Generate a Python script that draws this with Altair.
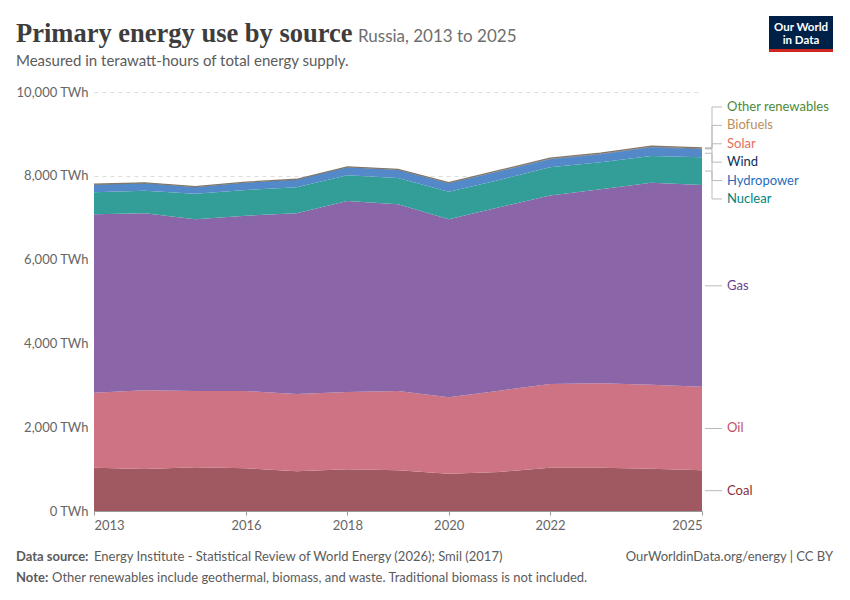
import altair as alt
import pandas as pd

years = [2013, 2014, 2015, 2016, 2017, 2018, 2019, 2020, 2021, 2022, 2023, 2024, 2025]
sources = ["Coal", "Oil", "Gas", "Nuclear", "Hydropower", "Wind", "Solar", "Biofuels", "Other renewables"]

coal = [1034, 1002, 1043, 1019, 947, 995, 971, 891, 931, 1034, 1034, 1010, 971]
oil = [1790, 1878, 1821, 1845, 1846, 1845, 1893, 1823, 1941, 1997, 2013, 2005, 1996]
gas = [4258, 4226, 4099, 4185, 4313, 4560, 4457, 4252, 4377, 4496, 4632, 4822, 4815]
nuclear = [525, 540, 611, 613, 621, 613, 628, 653, 652, 677, 644, 637, 661]
hydro = [184, 180, 160, 178, 182, 192, 194, 205, 205, 190, 192, 205, 190]
wind = [0.03, 0.03, 0.05, 0.3, 0.3, 0.6, 0.9, 3.5, 8.6, 12, 14, 17, 19]
solar = [0.4, 0.6, 1.2, 1.6, 1.6, 2.0, 3.2, 5.0, 5.6, 5.9, 6.4, 6.2, 6.5]
biofuels = [0.5, 0.5, 0.5, 0.5, 0.5, 0.5, 0.5, 0.5, 0.5, 0.5, 0.5, 0.5, 0.5]
other = [6, 6, 6, 6, 6, 6, 6, 6, 7, 7, 7, 7, 7]

# label (text) colours and area fill colours (fills are the lighter, 80% tint)
colors = ["#883039", "#C15065", "#6D3E91", "#00847E", "#286BBB",
          "#0E2E5C", "#E56E5A", "#BC8E5A", "#4C8A3A"]
fills = ["#a05961", "#cd7384", "#8a65a7", "#339d98", "#5389c9",
         "#3e587d", "#ea8b7b", "#c9a57b", "#70a162"]

series = [coal, oil, gas, nuclear, hydro, wind, solar, biofuels, other]

rows = []
for i, (src, vals) in enumerate(zip(sources, series)):
    for y, v in zip(years, vals):
        rows.append({"year": y, "source": src, "value": v, "order": i})
df = pd.DataFrame(rows)

totals = [sum(s[k] for s in series) for k in range(len(years))]
df_total = pd.DataFrame({"year": years, "total": totals})

# label placement (derived from last-year values, with collision avoidance)
last = [s[-1] for s in series]
cum = 0
mids = []
for v in last:
    mids.append(cum + v / 2)
    cum += v
SPACING = 439.0  # data units between labels
order_idx = sorted(range(len(sources)), key=lambda k: -mids[k])
groups = [[k] for k in order_idx]
def gpos(g):
    c = sum(mids[k] for k in g) / len(g)
    n = len(g)
    return [c + ((n - 1) / 2 - j) * SPACING for j in range(n)]
changed = True
while changed:
    changed = False
    for gi in range(len(groups) - 1):
        a = gpos(groups[gi]); b = gpos(groups[gi + 1])
        if a[-1] - b[0] < SPACING - 1e-6:
            groups[gi] = groups[gi] + groups[gi + 1]
            del groups[gi + 1]
            changed = True
            break
label_y = {}
for g in groups:
    for k, p in zip(g, gpos(g)):
        label_y[k] = p
df_lab = pd.DataFrame({
    "source": sources,
    "mid": mids,
    "label_y": [label_y[k] for k in range(len(sources))],
})

W, H = 608, 419
FONT = "Lato"

fill_scale = alt.Scale(domain=sources, range=fills)
text_scale = alt.Scale(domain=[s + " " for s in sources], range=colors)
df_lab["key"] = [s + " " for s in sources]
yscale = alt.Scale(domain=[0, 10000], nice=False)
xscale = alt.Scale(domain=[2013, 2025], nice=False)

areas = alt.Chart(df).mark_area(interpolate="linear").encode(
    x=alt.X("year:Q", scale=xscale,
            axis=alt.Axis(values=[2013, 2016, 2018, 2020, 2022, 2025], format="d", title=None,
                          grid=False, labelFlush=True, labelFontSize=13, labelColor="#666",
                          labelFont=FONT, domainColor="#999", tickColor="#999", tickSize=4,
                          labelPadding=4)),
    y=alt.Y("value:Q", stack="zero", scale=yscale,
            axis=alt.Axis(values=[0, 2000, 4000, 6000, 8000, 10000],
                          labelExpr="format(datum.value, ',') + ' TWh'", title=None,
                          grid=True, gridDash=[4, 4], gridColor="#dddddd", domain=False,
                          ticks=False, labelPadding=6, labelFontSize=13, labelColor="#666",
                          labelFont=FONT)),
    color=alt.Color("source:N", scale=fill_scale, legend=None),
    order=alt.Order("order:Q", sort="ascending"),
)

topline = alt.Chart(df_total).mark_line(color="#80776c", strokeWidth=1.3).encode(
    x=alt.X("year:Q", scale=xscale), y=alt.Y("total:Q", scale=yscale))

VX = 618
lead1 = alt.Chart(df_lab).mark_rule(color="#bbbbbb", strokeWidth=1).encode(
    y=alt.Y("mid:Q", scale=yscale), x=alt.value(611), x2=alt.value(VX))
lead2 = alt.Chart(df_lab).mark_rule(color="#bbbbbb", strokeWidth=1).encode(
    y=alt.Y("mid:Q", scale=yscale), y2="label_y:Q", x=alt.value(VX))
lead3 = alt.Chart(df_lab).mark_rule(color="#bbbbbb", strokeWidth=1).encode(
    y=alt.Y("label_y:Q", scale=yscale), x=alt.value(VX), x2=alt.value(628))
labels = alt.Chart(df_lab).mark_text(align="left", baseline="middle", fontSize=13, font=FONT).encode(
    y=alt.Y("label_y:Q", scale=yscale), x=alt.value(633), text="source:N",
    color=alt.Color("key:N", scale=text_scale, legend=None))

def txt(s, x, y, **kw):
    return alt.Chart(pd.DataFrame({"t": [s]})).mark_text(**kw).encode(
        text="t:N", x=alt.value(x), y=alt.value(y))

title = txt("Primary energy use by source", -78, -50, align="left", baseline="alphabetic",
            font="Liberation Serif", fontSize=26.5, fontWeight="bold", color="#3d3d3d")
subtitle_place = txt("Russia, 2013 to 2025", 264, -50, align="left", baseline="alphabetic",
                     font=FONT, fontSize=17, color="#6e6e6e")
subtitle = txt("Measured in terawatt-hours of total energy supply.", -78, -26, align="left",
               baseline="alphabetic", font=FONT, fontSize=15, color="#5b5b5b")
FS = 13
src_b = txt("Data source:", -78, 469, align="left", baseline="alphabetic", font=FONT,
            fontSize=FS, fontWeight="bold", color="#5b5b5b")
src_t = txt("Energy Institute - Statistical Review of World Energy (2026); Smil (2017)", 0, 469,
            align="left", baseline="alphabetic", font=FONT, fontSize=FS, color="#5b5b5b")
url = txt("OurWorldinData.org/energy | CC BY", 739, 469, align="right", baseline="alphabetic",
          font=FONT, fontSize=FS, color="#5b5b5b")
note_b = txt("Note:", -78, 490, align="left", baseline="alphabetic", font=FONT,
             fontSize=FS, fontWeight="bold", color="#5b5b5b")
note_t = txt("Other renewables include geothermal, biomass, and waste. Traditional biomass is not included.",
             -42, 490, align="left", baseline="alphabetic", font=FONT, fontSize=FS, color="#5b5b5b")

logo_df = pd.DataFrame({"a": [1]})
logo_box = alt.Chart(logo_df).mark_rect(color="#002147").encode(
    x=alt.value(675), x2=alt.value(739), y=alt.value(-76), y2=alt.value(-43))
logo_red = alt.Chart(logo_df).mark_rect(color="#ce261e").encode(
    x=alt.value(675), x2=alt.value(739), y=alt.value(-43), y2=alt.value(-40))
logo_t1 = txt("Our World", 707, -61, align="center", baseline="alphabetic", font=FONT,
              fontSize=11.5, fontWeight="bold", color="white")
logo_t2 = txt("in Data", 707, -48, align="center", baseline="alphabetic", font=FONT,
              fontSize=11.5, fontWeight="bold", color="white")

chart = alt.layer(
    areas, topline, lead1, lead2, lead3, labels,
    title, subtitle_place, subtitle, src_b, src_t, url, note_b, note_t,
    logo_box, logo_red, logo_t1, logo_t2,
).resolve_scale(color="independent").properties(
    width=W, height=H,
    autosize=alt.AutoSizeParams(type="none"),
    padding={"left": 86, "top": 84, "right": 132, "bottom": 80},
    background="white",
).configure_view(stroke=None)

chart.save("out.html", embed_options={"renderer": "svg", "actions": False})
